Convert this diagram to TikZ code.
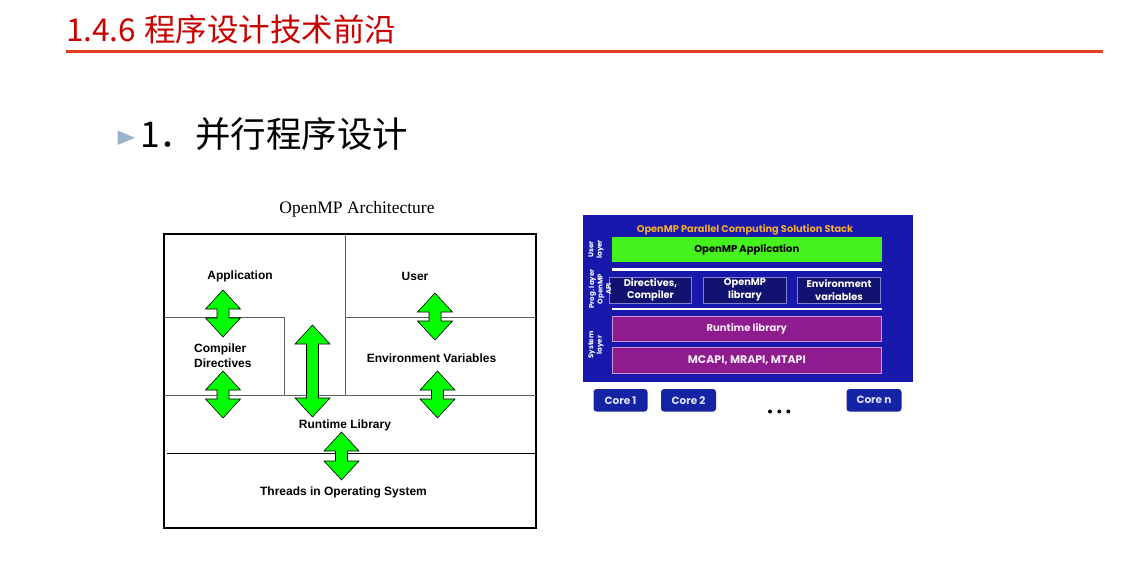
\documentclass[tikz,border=0pt]{standalone}
\usepackage{fontspec}
\setmainfont{Liberation Sans}
\newfontfamily\cjkfont{Noto Sans CJK SC}
\newfontfamily\timesfont{Liberation Serif}
\newfontfamily\geofont{Poppins}

\definecolor{titlered}{RGB}{200,0,0}
\definecolor{rulered}{RGB}{226,62,32}
\definecolor{bullettri}{RGB}{155,178,202}
\definecolor{stackblue}{RGB}{24,24,172}
\definecolor{apiblue}{RGB}{18,18,112}
\definecolor{apiedge}{RGB}{130,130,205}
\definecolor{sysviolet}{RGB}{142,28,142}
\definecolor{sysedge}{RGB}{205,150,205}
\definecolor{appgreen}{RGB}{70,242,30}
\definecolor{stackgold}{RGB}{242,172,40}
\definecolor{coreblue}{RGB}{20,36,165}
\definecolor{arrowgreen}{RGB}{0,255,0}
\definecolor{divider}{RGB}{95,95,95}

\newcommand\fsz[1]{\fontsize{#1}{#1}\selectfont}

% two-headed block arrow: #1 centre x, #2 top tip y, #3 bottom tip y
\newcommand\blockarrowUD[3]{%
  \draw[flowarrow] (#1,#2) -- ++(17.5,19) -- ++(-11.5,0) -- (#1+6,#3-19)
    -- ++(11.5,0) -- (#1,#3) -- ++(-17.5,-19) -- ++(11.5,0)
    -- (#1-6,#2+19) -- ++(-11.5,0) -- cycle;}

\tikzset{
  flowarrow/.style={fill=arrowgreen, draw=black, line width=0.6pt, line join=miter},
  archlabel/.style={font=\bfseries\fsz{12}, inner sep=0, align=left},
  archline/.style={draw=divider, line width=0.9pt},
  layerbox/.style={minimum height=25.5pt, inner sep=0, line width=0.8pt,
                   font=\geofont\bfseries\fsz{10}, align=center},
  apibox/.style={layerbox, fill=apiblue, draw=apiedge, minimum height=26pt,
                 text=white, font=\geofont\bfseries\fontsize{9.8}{12.5}\selectfont},
  sysbox/.style={layerbox, fill=sysviolet, draw=sysedge, text=white!92!violet},
  layertag/.style={rotate=90, text=white, align=center, inner sep=0,
                   font=\geofont\bfseries\fontsize{7}{8.5}\selectfont},
  corebox/.style={fill=coreblue, rounded corners=3pt, minimum width=55pt,
                  minimum height=22.5pt, inner sep=0, text=white!88!blue,
                  font=\geofont\bfseries\fsz{10.5}},
}

\begin{document}
\begin{tikzpicture}[x=1pt,y=-1pt]
\useasboundingbox[fill=white] (0,0) rectangle (1129,571);

% ---- heading ----
\node[anchor=base west, inner sep=0, text=titlered, font=\cjkfont\fsz{31.5}]
  (heading) at (66,41) {1.4.6\hspace{8pt}程序设计技术前沿};
\draw[rulered, line width=3.5pt] (66,51.5) -- (1103,51.5);

% ---- bullet line ----
\fill[bullettri] (117.5,130.5) -- (135,137.8) -- (117.5,145) -- cycle;
\node[anchor=west, inner sep=0, font=\cjkfont\fsz{35.5}] (bullet) at (140,134)
  {1．并行程序设计};

% ---- OpenMP architecture ----
\node[font=\timesfont\fsz{17.5}, inner sep=0] (archtitle) at (357,209)
  {OpenMP Architecture};
\node[draw, line width=1.4pt, minimum width=372pt, minimum height=294pt,
      inner sep=0] (frame) at (350,381) {};

\draw[archline] (345.7,234) -- (345.7,395);
\draw[archline] (164,317) -- (284.5,317) -- (284.5,395);
\draw[archline] (345.7,317) -- (536,317);
\draw[archline] (164,395) -- (536,395);
\draw[black, line width=1pt] (167,453) -- (536,453);

\node[archlabel] (app)  at (240,276.5) {Application};
\node[archlabel] (user) at (415,276.5) {User};
\node[archlabel, anchor=west] (comp) at (194,356) {Compiler\\[3pt]Directives};
\node[archlabel] (env)  at (431.5,358) {Environment Variables};
\node[archlabel] (rtl)  at (345,425) {Runtime Library};
\node[archlabel] (os)   at (343.5,492) {Threads in Operating System};

\blockarrowUD{223}{290}{337}
\blockarrowUD{223}{371}{418}
\blockarrowUD{312.5}{325}{417}
\blockarrowUD{435}{293}{340}
\blockarrowUD{437.5}{371}{418}
\blockarrowUD{341.5}{432}{480}

% ---- OpenMP solution stack ----
\node[fill=stackblue, minimum width=330pt, minimum height=167pt, inner sep=0]
  (stack) at (748,298.5) {};
\node[text=stackgold, font=\geofont\bfseries\fsz{9.8}, inner sep=0]
  (stacktitle) at (745,229.5) {OpenMP Parallel Computing Solution Stack};

\node[layerbox, fill=appgreen, minimum width=269.5pt, text=black]
  (appl) at (746.8,249.5) {OpenMP Application};
\draw[white, line width=2.5pt] (612,269.5) -- (881.5,269.5);

\node[apibox, minimum width=82.5pt] (dir) at (650.5,290) {Directives,\\Compiler};
\node[apibox, minimum width=83.5pt] (lib) at (745,290) {OpenMP\\library};
\node[apibox, minimum width=83.5pt] (envv) at (839,290) {Environment\\variables};
\draw[white, line width=2.5pt] (612,309) -- (881.5,309);

\node[sysbox, minimum width=269.5pt] (rt) at (746.8,329) {Runtime library};
\node[sysbox, minimum width=269.5pt, font=\geofont\bfseries\fsz{11}]
  (mc) at (746.8,360.3) {MCAPI, MRAPI, MTAPI};

\node[layertag] (tuser) at (596,249.5) {User\\layer};
\node[layertag] (tprog) at (600,289) {Prog. layer\\OpenMP\\API};
\node[layertag] (tsys)  at (596,345) {System\\layer};

\node[corebox, minimum width=54pt] (c1) at (620.5,400.3) {Core 1};
\node[corebox] (c2) at (688.5,400.3) {Core 2};
\node[corebox] (cn) at (874,400.3) {Core n};
\foreach \dx [count=\i] in {770,779.3,788.3}
  \fill (\dx,411.5) circle (2pt) coordinate (dot\i);
\end{tikzpicture}
\end{document}
